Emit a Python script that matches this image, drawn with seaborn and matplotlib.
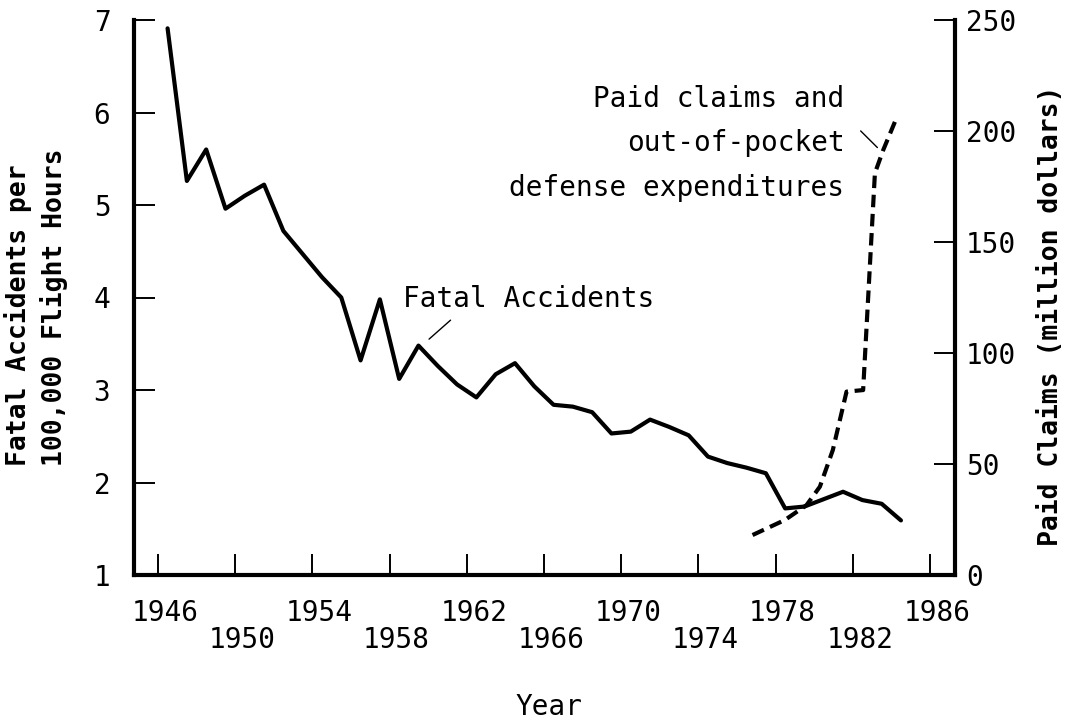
import numpy as np
import matplotlib
matplotlib.use('Agg')
import matplotlib.pyplot as plt
import matplotlib.transforms as mtransforms
import seaborn as sns

# fatal accidents per 100,000 flight hours, one value per year
years = [1946, 1947, 1948, 1949, 1950, 1951, 1952, 1953, 1954, 1955,
         1956, 1957, 1958, 1959, 1960, 1961, 1962, 1963, 1964, 1965,
         1966, 1967, 1968, 1969, 1970, 1971, 1972, 1973, 1974, 1975,
         1976, 1977, 1978, 1979, 1980, 1981, 1982, 1983, 1984]
accidents = [6.91, 5.26, 5.60, 4.96, 5.10, 5.22, 4.72, 4.47, 4.22, 4.00,
             3.32, 3.98, 3.12, 3.48, 3.26, 3.06, 2.92, 3.17, 3.29, 3.04,
             2.84, 2.82, 2.76, 2.53, 2.55, 2.68, 2.60, 2.51, 2.28, 2.21,
             2.16, 2.10, 1.72, 1.74, 1.82, 1.90, 1.81, 1.77, 1.59]

# paid claims and defense expenditures (million dollars)
claim_years = [1976.31, 1977.99, 1979.11, 1979.80, 1980.47, 1981.18,
               1982.04, 1982.65, 1983.08, 1983.69]
claims = [18.0, 24.8, 31.5, 39.8, 56.3, 82.6, 83.3, 181.0, 191.4, 204.2]

row1_ticks = [1946, 1954, 1962, 1970, 1978, 1986]
row2_ticks = [1950, 1958, 1966, 1974, 1982]
left_ticks = [1, 2, 3, 4, 5, 6, 7]
right_ticks = [0, 50, 100, 150, 200, 250]

sns.set_theme(style='ticks')
plt.rcParams['font.family'] = ['DejaVu Sans Mono']
plt.rcParams['axes.linewidth'] = 3
plt.rcParams['axes.edgecolor'] = 'black'
plt.rcParams['text.color'] = 'black'
plt.rcParams['axes.labelcolor'] = 'black'
plt.rcParams['xtick.color'] = 'black'
plt.rcParams['ytick.color'] = 'black'

W, H = 1066, 721
fig = plt.figure(figsize=(W / 100, H / 100), dpi=100)
ax = fig.add_axes([134 / W, 1 - 575 / H, (955 - 134) / W, (575 - 20) / H])
ax2 = ax.twinx()

# data plotted at mid-year
sns.lineplot(x=np.array(years) + 0.5, y=accidents, ax=ax, color='black',
             linewidth=3, errorbar=None)
sns.lineplot(x=np.array(claim_years) + 0.5, y=claims, ax=ax2, color='black',
             linewidth=3, linestyle=(0, (3, 1.6)), errorbar=None)

ax.set_xlim(1944.76, 1987.3)
ax.set_ylim(1, 7)
ax2.set_ylim(0, 250)

ax.set_xticks(row1_ticks, labels=[str(t) for t in row1_ticks])
ax.set_xticks(row2_ticks, labels=[str(t) for t in row2_ticks], minor=True)
ax.set_yticks(left_ticks, labels=[str(t) for t in left_ticks])
ax2.set_yticks(right_ticks, labels=[str(t) for t in right_ticks])

for a in (ax, ax2):
    a.spines['top'].set_visible(False)
    a.set_xlabel('')
    a.set_ylabel('')
ax.spines['right'].set_visible(False)
ax2.spines['left'].set_visible(False)
ax2.spines['bottom'].set_visible(False)

ax.tick_params(axis='x', which='both', direction='in', length=15, width=1.4,
               labelsize=20, color='black', labelcolor='black')
ax.tick_params(axis='x', which='major', pad=17)
ax.tick_params(axis='x', which='minor', pad=37)
ax.tick_params(axis='y', direction='in', length=15, width=1.4, pad=17,
               labelsize=20, color='black', labelcolor='black')
ax2.tick_params(axis='y', direction='in', length=15, width=1.4, pad=8,
                labelsize=20, color='black', labelcolor='black')

shift = mtransforms.ScaledTranslation(7 / 100, 0, fig.dpi_scale_trans)
for lab in ax.get_xticklabels(which='both'):
    lab.set_transform(lab.get_transform() + shift)

# annotations
ax.text(1958.7, 3.9, 'Fatal Accidents', fontsize=20, ha='left', va='baseline')
ax.annotate('', xy=(1959.94, 3.53), xytext=(1961.27, 3.775),
            arrowprops=dict(arrowstyle='-', lw=1, color='black'))
ax.text(1981.57, 5.67, 'Paid claims and\nout-of-pocket\ndefense expenditures',
        fontsize=20, ha='right', va='center', multialignment='right',
        linespacing=1.75)
ax.annotate('', xy=(1983.38, 5.6), xytext=(1982.31, 5.822),
            arrowprops=dict(arrowstyle='-', lw=1, color='black'))

fig.text(549 / W, 1 - 715 / H, 'Year', fontsize=20, ha='center', va='baseline')
fig.text(36 / W, 1 - 307 / H, 'Fatal Accidents per\n100,000 Flight Hours',
         fontsize=19, fontweight='bold', rotation=90, ha='center', va='center',
         multialignment='left', linespacing=1.4)
fig.text(1051 / W, 1 - 316 / H, 'Paid Claims (million dollars)', fontsize=19,
         fontweight='bold', rotation=90, ha='center', va='center')

fig.savefig('out.png', dpi=100)
